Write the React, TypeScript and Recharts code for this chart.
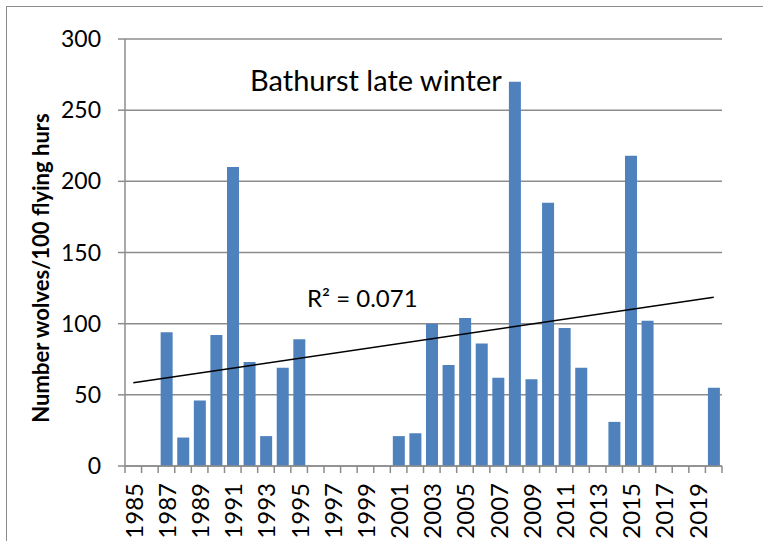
import React from 'react';
import { ComposedChart, Bar, Line, XAxis, YAxis, CartesianGrid } from 'recharts';

const years = [
  '1985', '1986', '1987', '1988', '1989', '1990', '1991', '1992', '1993', '1994',
  '1995', '1996', '1997', '1998', '1999', '2000', '2001', '2002', '2003', '2004',
  '2005', '2006', '2007', '2008', '2009', '2010', '2011', '2012', '2013', '2014',
  '2015', '2016', '2017', '2018', '2019', '2020',
];

const wolves: (number | null)[] = [
  null, null, 94, 20, 46, 92, 210, 73, 21, 69,
  89, null, null, null, null, null, 21, 23, 100, 71,
  104, 86, 62, 270, 61, 185, 97, 69, null, 31,
  218, 102, null, null, null, 55,
];

// Linear trend line end values (1985 and 2020)
const trendStart = 58.5;
const trendEnd = 118.5;

const yTicks = [0, 50, 100, 150, 200, 250, 300];

const data = years.map((year, i) => ({
  year,
  wolves: wolves[i],
  trend: i === 0 ? trendStart : i === years.length - 1 ? trendEnd : null,
}));

const GRAY = '#8c8c8c';
const FONT = 'Lato, "Liberation Sans", sans-serif';

function YearTick(props: any) {
  const { x, y, payload } = props;
  const index = props.index ?? payload.index;
  const off = payload.offset ?? 8.28;
  const isLabel = index % 2 === 0;
  const isLast = index === years.length - 1;
  const ty = y + 17;
  return (
    <g>
      <line x1={x - off} x2={x - off} y1={y} y2={y + 7} stroke={GRAY} strokeWidth={1.5} />
      {isLast && <line x1={x + off} x2={x + off} y1={y} y2={y + 7} stroke={GRAY} strokeWidth={1.5} />}
      {isLabel && (
        <text
          x={x}
          y={ty}
          transform={`rotate(-90 ${x} ${ty})`}
          textAnchor="end"
          dominantBaseline="central"
          fontSize={24}
          fontFamily={FONT}
          fill="#000"
        >
          {payload.value}
        </text>
      )}
    </g>
  );
}

export default function App() {
  return (
    <div
      style={{
        position: 'absolute',
        left: 0,
        top: 0,
        width: 763,
        height: 541,
        overflow: 'hidden',
        background: '#fff',
        fontFamily: FONT,
      }}
    >
      <div
        style={{
          position: 'absolute',
          left: 6,
          top: 6,
          width: 1000,
          height: 1000,
          border: `1.5px solid ${GRAY}`,
        }}
      />
      <div style={{ position: 'absolute', left: 0, top: 0 }}>
        <ComposedChart
          width={763}
          height={541}
          data={data}
          margin={{ top: 39, right: 41, bottom: 45, left: 0 }}
          barCategoryGap="15%"
        >
          <CartesianGrid vertical={false} stroke={GRAY} strokeWidth={1.5} />
          <XAxis
            dataKey="year"
            height={30}
            interval={0}
            tickLine={false}
            tickSize={0}
            tickMargin={0}
            tick={<YearTick />}
            axisLine={{ stroke: GRAY, strokeWidth: 1.5 }}
          />
          <YAxis
            width={125}
            domain={[0, 300]}
            ticks={yTicks}
            interval={0}
            tickSize={7}
            tickMargin={17}
            axisLine={{ stroke: GRAY, strokeWidth: 1.5 }}
            tickLine={{ stroke: GRAY, strokeWidth: 1.5 }}
            tick={{ fill: '#000', fontSize: 23, fontFamily: FONT }}
          />
          <Bar dataKey="wolves" fill="#4f81bd" isAnimationActive={false} />
          <Line
            dataKey="trend"
            stroke="#000"
            strokeWidth={1.5}
            dot={false}
            connectNulls
            isAnimationActive={false}
            type="linear"
          />
        </ComposedChart>
      </div>
      <div
        style={{
          position: 'absolute',
          left: 250,
          top: 63,
          fontSize: 29,
          lineHeight: 1.2,
          color: '#000',
          whiteSpace: 'nowrap',
        }}
      >
        Bathurst late winter
      </div>
      <div
        style={{
          position: 'absolute',
          left: 307,
          top: 284,
          fontSize: 24,
          lineHeight: 1.2,
          color: '#000',
          whiteSpace: 'nowrap',
        }}
      >
        R² = 0.071
      </div>
      <div
        style={{
          position: 'absolute',
          left: 40,
          top: 268,
          transform: 'translate(-50%, -50%) rotate(-90deg)',
          fontSize: 22,
          fontWeight: 700,
          color: '#000',
          whiteSpace: 'nowrap',
        }}
      >
        Number wolves/100 flying hurs
      </div>
    </div>
  );
}
